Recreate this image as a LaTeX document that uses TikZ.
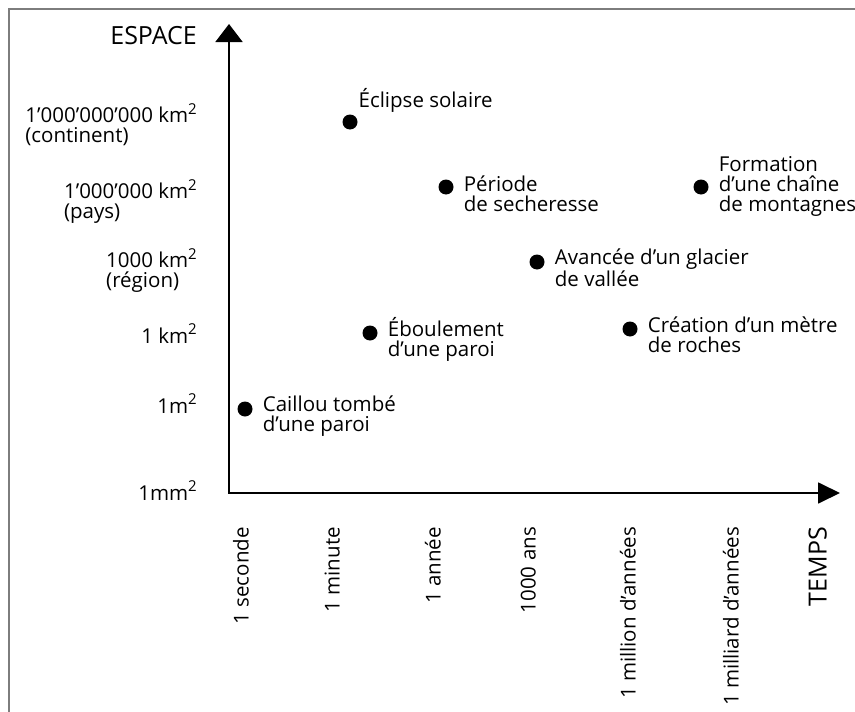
\documentclass[tikz,border=0pt]{standalone}
\usepackage{fontspec}
\setmainfont{Open Sans}
\usetikzlibrary{arrows.meta,positioning}

\definecolor{framegray}{RGB}{125,125,125}
\newcommand{\supTwo}{\raisebox{.75ex}{\fontsize{15}{15}\selectfont 2}}

\tikzset{
	frame/.style={line width=2.5pt, framegray},
	axis/.style={line width=1.8pt, line join=miter},
	dot/.style={circle, fill=black, inner sep=0pt, minimum size=15pt},
	evt/.style={anchor=base west, align=left, inner sep=0pt, font=\fontsize{20.5}{20}\selectfont},
	ylab/.style={anchor=base east, align=left, inner sep=0pt, font=\fontsize{20.5}{19.5}\selectfont},
	xlab/.style={rotate=90, anchor=mid east, inner sep=0pt, font=\fontsize{20.5}{20}\selectfont},
	axname/.style={inner sep=0pt, font=\fontsize{25}{25}\selectfont}
}

\begin{document}
\begin{tikzpicture}[x=1pt,y=-1pt]
		\useasboundingbox (0,0) rectangle (855,712);

		% Draw frame
		\draw[frame] (9,712) -- (9,9) -- (855,9);

		% Draw axes
		\coordinate (O) at (229,493);
		\coordinate (ytip) at (229,24);
		\coordinate (xtip) at (840,493);
		\draw[axis, {Triangle[length=18pt,width=27pt]}-{Triangle[length=22pt,width=21pt]}] (ytip) -- (O) -- (xtip);

		\node[axname, anchor=base east] (espace) at (197,44) {ESPACE};
		\node[axname, rotate=90, anchor=mid east] (temps) at (824,527) {TEMPS};

		% Space scale (base = last line)
		\node[ylab] (ycont) at (197,142) {1’000’000’000 km\supTwo\\(continent)};
		\node[ylab] (ypays) at (197,218) {1’000’000 km\supTwo\\(pays)};
		\node[ylab] (yreg) at (197,287) {1000 km\supTwo\\(région)};
		\node[ylab] (ykm) at (197,343) {1 km\supTwo};
		\node[ylab] (ym) at (197,413) {1m\supTwo};
		\node[ylab] (ymm) at (197,500) {1mm\supTwo};

		% Time scale
		\node[xlab] (xsec) at (246,527) {1 seconde};
		\node[xlab] (xmin) at (337,527) {1 minute};
		\node[xlab] (xan) at (438,527) {1 année};
		\node[xlab] (xmil) at (533,527) {1000 ans};
		\node[xlab] (xmio) at (633,527) {1 million d’années};
		\node[xlab] (xmrd) at (736,527) {1 milliard d’années};

		% Draw events
		\node[dot] (cail) at (245,409) {};
		\node[dot] (ecl) at (350,122) {};
		\node[dot] (ebou) at (370,333) {};
		\node[dot] (peri) at (446,187) {};
		\node[dot] (avan) at (537,262) {};
		\node[dot] (crea) at (630,329) {};
		\node[dot] (form) at (701,187) {};

		\node[right=10pt of cail, evt, yshift=-22pt] (tcail) {Caillou tombé\\d’une paroi};
		\node[above right=9pt and 3pt of ecl, evt] (tecl) {Éclipse solaire};
		\node[right=10pt of ebou, evt, yshift=-23pt] (tebou) {Éboulement\\d’une paroi};
		\node[right=10pt of peri, evt, yshift=-24pt] (tperi) {Période\\de secheresse};
		\node[right=10pt of avan, evt, yshift=-24pt] (tavan) {Avancée d’un glacier\\de vallée};
		\node[right=10pt of crea, evt, yshift=-23pt] (tcrea) {Création d’un mètre\\de roches};
		\node[right=10pt of form, evt, yshift=-24pt] (tform) {Formation\\d’une chaîne\\de montagnes};
	\end{tikzpicture}
\end{document}
